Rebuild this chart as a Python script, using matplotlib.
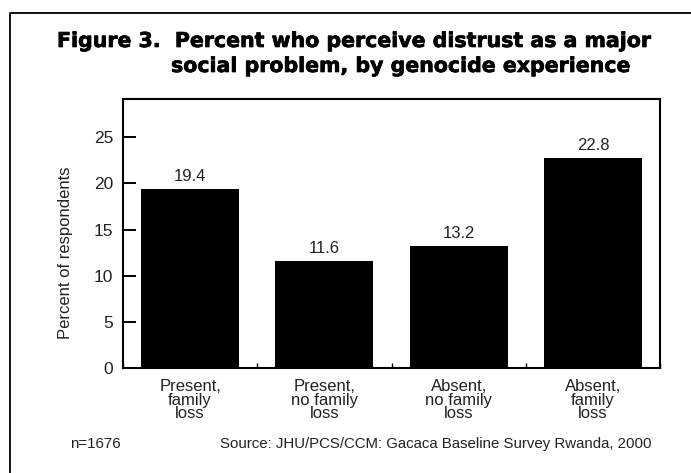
import matplotlib
matplotlib.use("Agg")
import matplotlib.pyplot as plt
from matplotlib.lines import Line2D
import matplotlib.patheffects as pe

categories = ["Present,\nfamily\nloss", "Present,\nno family\nloss",
              "Absent,\nno family\nloss", "Absent,\nfamily\nloss"]
values = [19.4, 11.6, 13.2, 22.8]
yticks = [0, 5, 10, 15, 20, 25]

W, H = 691, 473
fig = plt.figure(figsize=(W / 100, H / 100), dpi=100)
fig.patch.set_facecolor("white")

def fx(px):
    return px / W

def fy(py):
    return 1 - py / H

plt.rcParams["font.family"] = ["Liberation Sans", "DejaVu Sans"]
TXT = "#222222"

# frame around the figure panel (top and left edges)
fig.add_artist(Line2D([fx(9.5), fx(9.5), fx(691)], [fy(473), fy(13), fy(13)],
                      transform=fig.transFigure, color="black", lw=1.3))

# two-line heading, second line aligned under "Percent"
heavy = [pe.withStroke(linewidth=0.5, foreground="black")]
title_kw = dict(family=["DejaVu Sans"], weight="bold", fontsize=14.2,
                color="black", va="baseline", ha="left", path_effects=heavy)
X0, X1 = 57, 652
t1 = fig.text(fx(X0), fy(47), "Figure 3.  Percent who perceive distrust as a major", **title_kw)
fig.canvas.draw()
r = fig.canvas.get_renderer()
scale = (X1 - X0) / t1.get_window_extent(r).width
title_kw["fontsize"] = 14.2 * scale
t1.set_fontsize(title_kw["fontsize"])
pre = fig.text(fx(X0), fy(47), "Figure 3.  ", **title_kw)
fig.canvas.draw()
x2 = X0 + pre.get_window_extent(r).width - 4
pre.remove()
fig.text(fx(x2), fy(72), "social problem, by genocide experience", **title_kw)

ax = fig.add_axes([fx(123), fy(368), fx(660) - fx(123), fy(99) - fy(368)])
x = list(range(len(values)))
ax.bar(x, values, width=0.73, color="black", zorder=2)

ax.set_xlim(-0.5, len(values) - 0.5)
ax.set_ylim(0, 29.15)
ax.set_yticks(yticks)
ax.set_yticklabels([str(t) for t in yticks], fontsize=12.5, color=TXT)
ax.tick_params(axis="y", direction="in", length=9.5, width=1.4, pad=7)

ax.set_xticks([i + 0.5 for i in range(-1, len(values))])
ax.set_xticklabels([])
ax.tick_params(axis="x", direction="in", length=3.5, width=1.0)
for i, lab in enumerate(categories):
    ax.text(i, -1.2, lab, ha="center", va="top", fontsize=12,
            color=TXT, linespacing=0.88)

for sp in ax.spines.values():
    sp.set_linewidth(1.5)
    sp.set_zorder(3)

for i, v in enumerate(values):
    ax.text(i, v + 0.55, f"{v:.1f}", ha="center", va="bottom",
            fontsize=12, color=TXT)

ax.set_ylabel("Percent of respondents", fontsize=12, color=TXT)
ax.yaxis.set_label_coords(-0.093, 12.5 / 29.15)

fig.text(fx(70), fy(444), "n=1676", fontsize=10.8, color=TXT, va="center", ha="left")
fig.text(fx(220), fy(444), "Source: JHU/PCS/CCM: Gacaca Baseline Survey Rwanda, 2000",
         fontsize=10.8, color=TXT, va="center", ha="left")

fig.savefig("out.png", dpi=100)
